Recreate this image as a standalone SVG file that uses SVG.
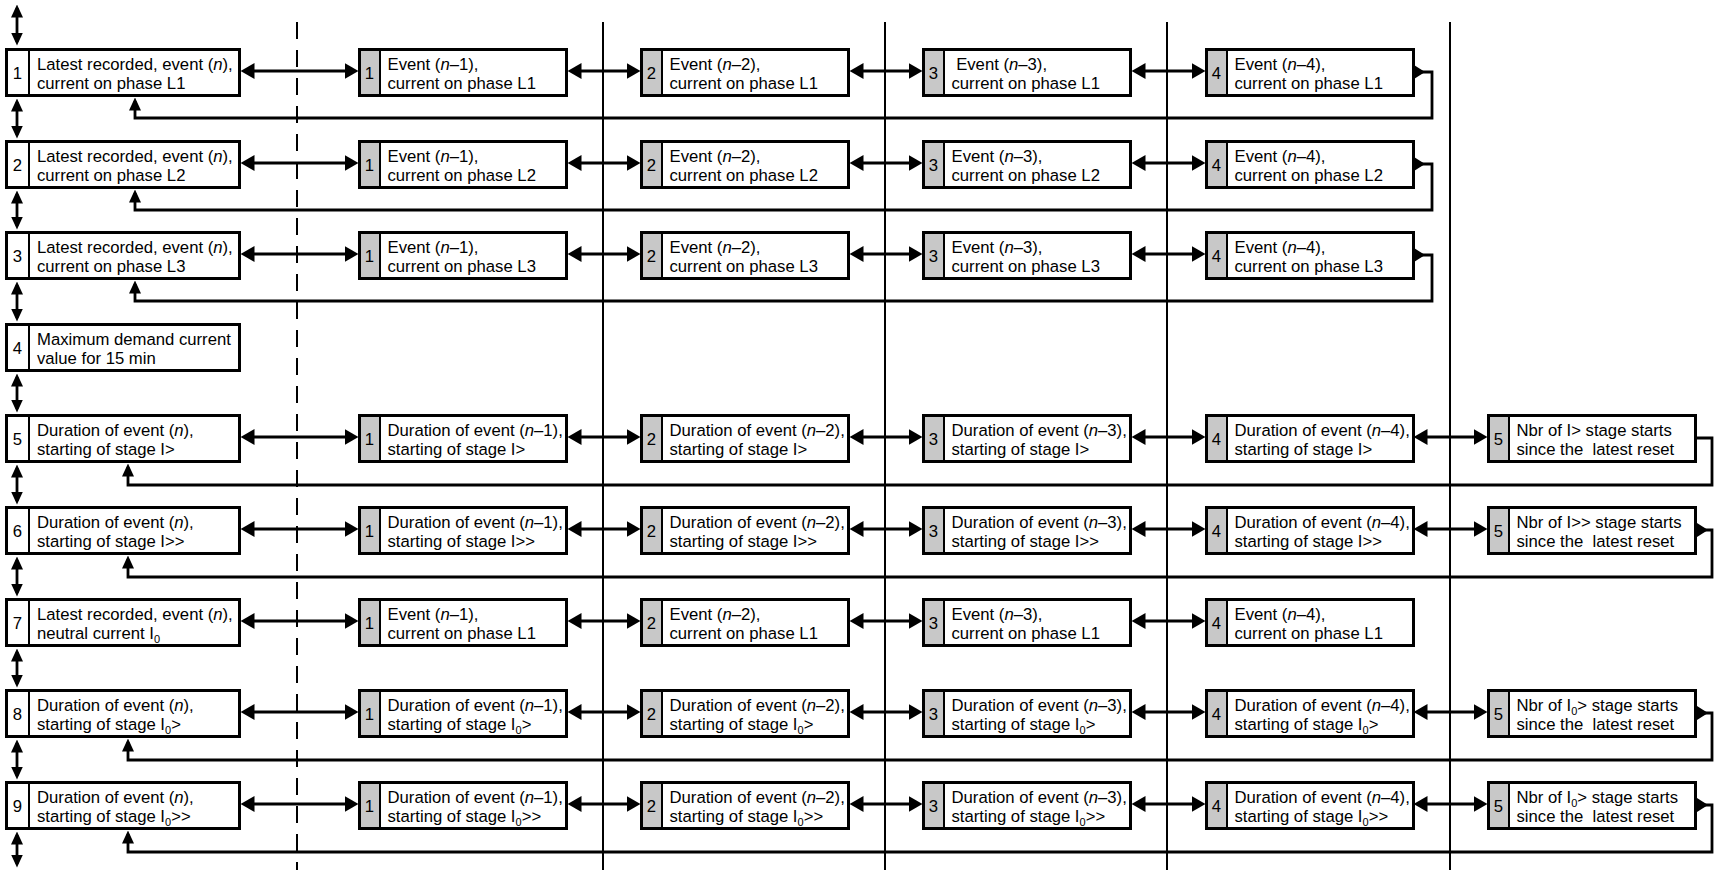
<svg xmlns="http://www.w3.org/2000/svg" width="1720" height="870" viewBox="0 0 1720 870">
<style>
.box{fill:#fff;stroke:#000;stroke-width:3}
.g{fill:#c8c8c8}
.dv{stroke:#000;stroke-width:2}
.t{font-family:"Liberation Sans",Arial,sans-serif;font-size:16.7px;fill:#000}
.n{font-family:"Liberation Sans",Arial,sans-serif;font-size:16.7px;fill:#000;text-anchor:middle}
.i{font-style:italic}
.s{font-size:11px}
.ha{stroke:#000;stroke-width:3.2;marker-start:url(#ah);marker-end:url(#ah)}
.va{stroke:#000;stroke-width:2.8;marker-start:url(#av);marker-end:url(#av)}
.fb{fill:none;stroke:#000;stroke-width:2.8;marker-end:url(#av)}
.ra{fill:#000}
.vl{stroke:#000;stroke-width:2}
.dl{stroke:#000;stroke-width:2;stroke-dasharray:17 11}
</style>
<defs>
<marker id="ah" viewBox="0 0 14 16" refX="10.5" refY="8" markerWidth="14" markerHeight="16" markerUnits="userSpaceOnUse" orient="auto-start-reverse"><path d="M0,0 L14,8 L0,16 z" fill="#000"/></marker>
<marker id="av" viewBox="0 0 13 12" refX="9.5" refY="6" markerWidth="13" markerHeight="12" markerUnits="userSpaceOnUse" orient="auto-start-reverse"><path d="M0,0 L13,6 L0,12 z" fill="#000"/></marker>
</defs>
<rect width="1720" height="870" fill="#fff"/>
<g id="guides">
<line class="dl" x1="297" y1="22" x2="297" y2="870"/>
<line class="vl" x1="603" y1="22" x2="603" y2="870"/>
<line class="vl" x1="885" y1="22" x2="885" y2="870"/>
<line class="vl" x1="1167" y1="22" x2="1167" y2="870"/>
<line class="vl" x1="1450" y1="22" x2="1450" y2="870"/>
</g>
<g id="connectors">
<line class="va" x1="17" y1="8" x2="17" y2="42"/>
<line class="va" x1="17" y1="102" x2="17" y2="135"/>
<line class="va" x1="17" y1="194" x2="17" y2="226"/>
<line class="va" x1="17" y1="285" x2="17" y2="318"/>
<line class="va" x1="17" y1="377" x2="17" y2="409"/>
<line class="va" x1="17" y1="468" x2="17" y2="501"/>
<line class="va" x1="17" y1="560" x2="17" y2="593"/>
<line class="va" x1="17" y1="652" x2="17" y2="684"/>
<line class="va" x1="17" y1="743" x2="17" y2="776"/>
<line class="va" x1="17" y1="835" x2="17" y2="864"/>
<line class="ha" x1="244" y1="71" x2="355" y2="71"/><line class="ha" x1="571" y1="71" x2="637" y2="71"/><line class="ha" x1="853" y1="71" x2="919" y2="71"/><line class="ha" x1="1135" y1="71" x2="1202" y2="71"/>
<line class="ha" x1="244" y1="163" x2="355" y2="163"/><line class="ha" x1="571" y1="163" x2="637" y2="163"/><line class="ha" x1="853" y1="163" x2="919" y2="163"/><line class="ha" x1="1135" y1="163" x2="1202" y2="163"/>
<line class="ha" x1="244" y1="254" x2="355" y2="254"/><line class="ha" x1="571" y1="254" x2="637" y2="254"/><line class="ha" x1="853" y1="254" x2="919" y2="254"/><line class="ha" x1="1135" y1="254" x2="1202" y2="254"/>
<line class="ha" x1="244" y1="437" x2="355" y2="437"/><line class="ha" x1="571" y1="437" x2="637" y2="437"/><line class="ha" x1="853" y1="437" x2="919" y2="437"/><line class="ha" x1="1135" y1="437" x2="1202" y2="437"/><line class="ha" x1="1417" y1="437" x2="1484" y2="437"/>
<line class="ha" x1="244" y1="529" x2="355" y2="529"/><line class="ha" x1="571" y1="529" x2="637" y2="529"/><line class="ha" x1="853" y1="529" x2="919" y2="529"/><line class="ha" x1="1135" y1="529" x2="1202" y2="529"/><line class="ha" x1="1417" y1="529" x2="1484" y2="529"/>
<line class="ha" x1="244" y1="621" x2="355" y2="621"/><line class="ha" x1="571" y1="621" x2="637" y2="621"/><line class="ha" x1="853" y1="621" x2="919" y2="621"/><line class="ha" x1="1135" y1="621" x2="1202" y2="621"/>
<line class="ha" x1="244" y1="712" x2="355" y2="712"/><line class="ha" x1="571" y1="712" x2="637" y2="712"/><line class="ha" x1="853" y1="712" x2="919" y2="712"/><line class="ha" x1="1135" y1="712" x2="1202" y2="712"/><line class="ha" x1="1417" y1="712" x2="1484" y2="712"/>
<line class="ha" x1="244" y1="804" x2="355" y2="804"/><line class="ha" x1="571" y1="804" x2="637" y2="804"/><line class="ha" x1="853" y1="804" x2="919" y2="804"/><line class="ha" x1="1135" y1="804" x2="1202" y2="804"/><line class="ha" x1="1417" y1="804" x2="1484" y2="804"/>
<path class="fb" d="M1414,72 H1432 V118 H135 V101"/><polygon class="ra" points="1414,65 1425,72 1414,79"/>
<path class="fb" d="M1414,164 H1432 V210 H135 V193"/><polygon class="ra" points="1414,157 1425,164 1414,171"/>
<path class="fb" d="M1414,255 H1432 V301 H135 V284"/><polygon class="ra" points="1414,248 1425,255 1414,262"/>
<path class="fb" d="M1697,438 H1712 V485 H128 V467"/>
<path class="fb" d="M1697,530 H1712 V577 H128 V559"/><polygon class="ra" points="1697,523 1708,530 1697,537"/>
<path class="fb" d="M1697,713 H1712 V760 H128 V742"/><polygon class="ra" points="1697,706 1708,713 1697,720"/>
<path class="fb" d="M1697,805 H1712 V852 H128 V834"/><polygon class="ra" points="1697,798 1708,805 1697,812"/>
</g>
<g id="r1c0" transform="translate(5,48)"><rect class="box" x="1.5" y="1.5" width="233" height="46"/><line class="dv" x1="24" y1="1" x2="24" y2="48"/><text class="n" x="12.5" y="30.5">1</text><text class="t" x="32" y="21.8">Latest recorded, event (<tspan class="i">n</tspan>),</text><text class="t" x="32" y="40.5">current on phase L1</text></g>
<g id="r1c1" transform="translate(358,48)"><rect class="box" x="1.5" y="1.5" width="207" height="46"/><rect class="g" x="3" y="3" width="19" height="43"/><line class="dv" x1="22" y1="1" x2="22" y2="48"/><text class="n" x="11.5" y="30.5">1</text><text class="t" x="29.5" y="21.8">Event (<tspan class="i">n</tspan>–1),</text><text class="t" x="29.5" y="40.5">current on phase L1</text></g>
<g id="r1c2" transform="translate(640,48)"><rect class="box" x="1.5" y="1.5" width="207" height="46"/><rect class="g" x="3" y="3" width="19" height="43"/><line class="dv" x1="22" y1="1" x2="22" y2="48"/><text class="n" x="11.5" y="30.5">2</text><text class="t" x="29.5" y="21.8">Event (<tspan class="i">n</tspan>–2),</text><text class="t" x="29.5" y="40.5">current on phase L1</text></g>
<g id="r1c3" transform="translate(922,48)"><rect class="box" x="1.5" y="1.5" width="207" height="46"/><rect class="g" x="3" y="3" width="19" height="43"/><line class="dv" x1="22" y1="1" x2="22" y2="48"/><text class="n" x="11.5" y="30.5">3</text><text class="t" x="29.5" y="21.8" xml:space="preserve"> Event (<tspan class="i">n</tspan>–3),</text><text class="t" x="29.5" y="40.5">current on phase L1</text></g>
<g id="r1c4" transform="translate(1205,48)"><rect class="box" x="1.5" y="1.5" width="207" height="46"/><rect class="g" x="3" y="3" width="19" height="43"/><line class="dv" x1="22" y1="1" x2="22" y2="48"/><text class="n" x="11.5" y="30.5">4</text><text class="t" x="29.5" y="21.8">Event (<tspan class="i">n</tspan>–4),</text><text class="t" x="29.5" y="40.5">current on phase L1</text></g>
<g id="r2c0" transform="translate(5,140)"><rect class="box" x="1.5" y="1.5" width="233" height="46"/><line class="dv" x1="24" y1="1" x2="24" y2="48"/><text class="n" x="12.5" y="30.5">2</text><text class="t" x="32" y="21.8">Latest recorded, event (<tspan class="i">n</tspan>),</text><text class="t" x="32" y="40.5">current on phase L2</text></g>
<g id="r2c1" transform="translate(358,140)"><rect class="box" x="1.5" y="1.5" width="207" height="46"/><rect class="g" x="3" y="3" width="19" height="43"/><line class="dv" x1="22" y1="1" x2="22" y2="48"/><text class="n" x="11.5" y="30.5">1</text><text class="t" x="29.5" y="21.8">Event (<tspan class="i">n</tspan>–1),</text><text class="t" x="29.5" y="40.5">current on phase L2</text></g>
<g id="r2c2" transform="translate(640,140)"><rect class="box" x="1.5" y="1.5" width="207" height="46"/><rect class="g" x="3" y="3" width="19" height="43"/><line class="dv" x1="22" y1="1" x2="22" y2="48"/><text class="n" x="11.5" y="30.5">2</text><text class="t" x="29.5" y="21.8">Event (<tspan class="i">n</tspan>–2),</text><text class="t" x="29.5" y="40.5">current on phase L2</text></g>
<g id="r2c3" transform="translate(922,140)"><rect class="box" x="1.5" y="1.5" width="207" height="46"/><rect class="g" x="3" y="3" width="19" height="43"/><line class="dv" x1="22" y1="1" x2="22" y2="48"/><text class="n" x="11.5" y="30.5">3</text><text class="t" x="29.5" y="21.8">Event (<tspan class="i">n</tspan>–3),</text><text class="t" x="29.5" y="40.5">current on phase L2</text></g>
<g id="r2c4" transform="translate(1205,140)"><rect class="box" x="1.5" y="1.5" width="207" height="46"/><rect class="g" x="3" y="3" width="19" height="43"/><line class="dv" x1="22" y1="1" x2="22" y2="48"/><text class="n" x="11.5" y="30.5">4</text><text class="t" x="29.5" y="21.8">Event (<tspan class="i">n</tspan>–4),</text><text class="t" x="29.5" y="40.5">current on phase L2</text></g>
<g id="r3c0" transform="translate(5,231)"><rect class="box" x="1.5" y="1.5" width="233" height="46"/><line class="dv" x1="24" y1="1" x2="24" y2="48"/><text class="n" x="12.5" y="30.5">3</text><text class="t" x="32" y="21.8">Latest recorded, event (<tspan class="i">n</tspan>),</text><text class="t" x="32" y="40.5">current on phase L3</text></g>
<g id="r3c1" transform="translate(358,231)"><rect class="box" x="1.5" y="1.5" width="207" height="46"/><rect class="g" x="3" y="3" width="19" height="43"/><line class="dv" x1="22" y1="1" x2="22" y2="48"/><text class="n" x="11.5" y="30.5">1</text><text class="t" x="29.5" y="21.8">Event (<tspan class="i">n</tspan>–1),</text><text class="t" x="29.5" y="40.5">current on phase L3</text></g>
<g id="r3c2" transform="translate(640,231)"><rect class="box" x="1.5" y="1.5" width="207" height="46"/><rect class="g" x="3" y="3" width="19" height="43"/><line class="dv" x1="22" y1="1" x2="22" y2="48"/><text class="n" x="11.5" y="30.5">2</text><text class="t" x="29.5" y="21.8">Event (<tspan class="i">n</tspan>–2),</text><text class="t" x="29.5" y="40.5">current on phase L3</text></g>
<g id="r3c3" transform="translate(922,231)"><rect class="box" x="1.5" y="1.5" width="207" height="46"/><rect class="g" x="3" y="3" width="19" height="43"/><line class="dv" x1="22" y1="1" x2="22" y2="48"/><text class="n" x="11.5" y="30.5">3</text><text class="t" x="29.5" y="21.8">Event (<tspan class="i">n</tspan>–3),</text><text class="t" x="29.5" y="40.5">current on phase L3</text></g>
<g id="r3c4" transform="translate(1205,231)"><rect class="box" x="1.5" y="1.5" width="207" height="46"/><rect class="g" x="3" y="3" width="19" height="43"/><line class="dv" x1="22" y1="1" x2="22" y2="48"/><text class="n" x="11.5" y="30.5">4</text><text class="t" x="29.5" y="21.8">Event (<tspan class="i">n</tspan>–4),</text><text class="t" x="29.5" y="40.5">current on phase L3</text></g>
<g id="r4c0" transform="translate(5,323)"><rect class="box" x="1.5" y="1.5" width="233" height="46"/><line class="dv" x1="24" y1="1" x2="24" y2="48"/><text class="n" x="12.5" y="30.5">4</text><text class="t" x="32" y="21.8">Maximum demand current</text><text class="t" x="32" y="40.5">value for 15 min</text></g>
<g id="r5c0" transform="translate(5,414)"><rect class="box" x="1.5" y="1.5" width="233" height="46"/><line class="dv" x1="24" y1="1" x2="24" y2="48"/><text class="n" x="12.5" y="30.5">5</text><text class="t" x="32" y="21.8">Duration of event (<tspan class="i">n</tspan>),</text><text class="t" x="32" y="40.5">starting of stage I&gt;</text></g>
<g id="r5c1" transform="translate(358,414)"><rect class="box" x="1.5" y="1.5" width="207" height="46"/><rect class="g" x="3" y="3" width="19" height="43"/><line class="dv" x1="22" y1="1" x2="22" y2="48"/><text class="n" x="11.5" y="30.5">1</text><text class="t" x="29.5" y="21.8">Duration of event (<tspan class="i">n</tspan>–1),</text><text class="t" x="29.5" y="40.5">starting of stage I&gt;</text></g>
<g id="r5c2" transform="translate(640,414)"><rect class="box" x="1.5" y="1.5" width="207" height="46"/><rect class="g" x="3" y="3" width="19" height="43"/><line class="dv" x1="22" y1="1" x2="22" y2="48"/><text class="n" x="11.5" y="30.5">2</text><text class="t" x="29.5" y="21.8">Duration of event (<tspan class="i">n</tspan>–2),</text><text class="t" x="29.5" y="40.5">starting of stage I&gt;</text></g>
<g id="r5c3" transform="translate(922,414)"><rect class="box" x="1.5" y="1.5" width="207" height="46"/><rect class="g" x="3" y="3" width="19" height="43"/><line class="dv" x1="22" y1="1" x2="22" y2="48"/><text class="n" x="11.5" y="30.5">3</text><text class="t" x="29.5" y="21.8">Duration of event (<tspan class="i">n</tspan>–3),</text><text class="t" x="29.5" y="40.5">starting of stage I&gt;</text></g>
<g id="r5c4" transform="translate(1205,414)"><rect class="box" x="1.5" y="1.5" width="207" height="46"/><rect class="g" x="3" y="3" width="19" height="43"/><line class="dv" x1="22" y1="1" x2="22" y2="48"/><text class="n" x="11.5" y="30.5">4</text><text class="t" x="29.5" y="21.8">Duration of event (<tspan class="i">n</tspan>–4),</text><text class="t" x="29.5" y="40.5">starting of stage I&gt;</text></g>
<g id="r5c5" transform="translate(1487,414)"><rect class="box" x="1.5" y="1.5" width="207" height="46"/><rect class="g" x="3" y="3" width="19" height="43"/><line class="dv" x1="22" y1="1" x2="22" y2="48"/><text class="n" x="11.5" y="30.5">5</text><text class="t" x="29.5" y="21.8">Nbr of I&gt; stage starts</text><text class="t" x="29.5" y="40.5" xml:space="preserve">since the  latest reset</text></g>
<g id="r6c0" transform="translate(5,506)"><rect class="box" x="1.5" y="1.5" width="233" height="46"/><line class="dv" x1="24" y1="1" x2="24" y2="48"/><text class="n" x="12.5" y="30.5">6</text><text class="t" x="32" y="21.8">Duration of event (<tspan class="i">n</tspan>),</text><text class="t" x="32" y="40.5">starting of stage I&gt;&gt;</text></g>
<g id="r6c1" transform="translate(358,506)"><rect class="box" x="1.5" y="1.5" width="207" height="46"/><rect class="g" x="3" y="3" width="19" height="43"/><line class="dv" x1="22" y1="1" x2="22" y2="48"/><text class="n" x="11.5" y="30.5">1</text><text class="t" x="29.5" y="21.8">Duration of event (<tspan class="i">n</tspan>–1),</text><text class="t" x="29.5" y="40.5">starting of stage I&gt;&gt;</text></g>
<g id="r6c2" transform="translate(640,506)"><rect class="box" x="1.5" y="1.5" width="207" height="46"/><rect class="g" x="3" y="3" width="19" height="43"/><line class="dv" x1="22" y1="1" x2="22" y2="48"/><text class="n" x="11.5" y="30.5">2</text><text class="t" x="29.5" y="21.8">Duration of event (<tspan class="i">n</tspan>–2),</text><text class="t" x="29.5" y="40.5">starting of stage I&gt;&gt;</text></g>
<g id="r6c3" transform="translate(922,506)"><rect class="box" x="1.5" y="1.5" width="207" height="46"/><rect class="g" x="3" y="3" width="19" height="43"/><line class="dv" x1="22" y1="1" x2="22" y2="48"/><text class="n" x="11.5" y="30.5">3</text><text class="t" x="29.5" y="21.8">Duration of event (<tspan class="i">n</tspan>–3),</text><text class="t" x="29.5" y="40.5">starting of stage I&gt;&gt;</text></g>
<g id="r6c4" transform="translate(1205,506)"><rect class="box" x="1.5" y="1.5" width="207" height="46"/><rect class="g" x="3" y="3" width="19" height="43"/><line class="dv" x1="22" y1="1" x2="22" y2="48"/><text class="n" x="11.5" y="30.5">4</text><text class="t" x="29.5" y="21.8">Duration of event (<tspan class="i">n</tspan>–4),</text><text class="t" x="29.5" y="40.5">starting of stage I&gt;&gt;</text></g>
<g id="r6c5" transform="translate(1487,506)"><rect class="box" x="1.5" y="1.5" width="207" height="46"/><rect class="g" x="3" y="3" width="19" height="43"/><line class="dv" x1="22" y1="1" x2="22" y2="48"/><text class="n" x="11.5" y="30.5">5</text><text class="t" x="29.5" y="21.8">Nbr of I&gt;&gt; stage starts</text><text class="t" x="29.5" y="40.5" xml:space="preserve">since the  latest reset</text></g>
<g id="r7c0" transform="translate(5,598)"><rect class="box" x="1.5" y="1.5" width="233" height="46"/><line class="dv" x1="24" y1="1" x2="24" y2="48"/><text class="n" x="12.5" y="30.5">7</text><text class="t" x="32" y="21.8">Latest recorded, event (<tspan class="i">n</tspan>),</text><text class="t" x="32" y="40.5">neutral current I<tspan class="s" dy="4">0</tspan></text></g>
<g id="r7c1" transform="translate(358,598)"><rect class="box" x="1.5" y="1.5" width="207" height="46"/><rect class="g" x="3" y="3" width="19" height="43"/><line class="dv" x1="22" y1="1" x2="22" y2="48"/><text class="n" x="11.5" y="30.5">1</text><text class="t" x="29.5" y="21.8">Event (<tspan class="i">n</tspan>–1),</text><text class="t" x="29.5" y="40.5">current on phase L1</text></g>
<g id="r7c2" transform="translate(640,598)"><rect class="box" x="1.5" y="1.5" width="207" height="46"/><rect class="g" x="3" y="3" width="19" height="43"/><line class="dv" x1="22" y1="1" x2="22" y2="48"/><text class="n" x="11.5" y="30.5">2</text><text class="t" x="29.5" y="21.8">Event (<tspan class="i">n</tspan>–2),</text><text class="t" x="29.5" y="40.5">current on phase L1</text></g>
<g id="r7c3" transform="translate(922,598)"><rect class="box" x="1.5" y="1.5" width="207" height="46"/><rect class="g" x="3" y="3" width="19" height="43"/><line class="dv" x1="22" y1="1" x2="22" y2="48"/><text class="n" x="11.5" y="30.5">3</text><text class="t" x="29.5" y="21.8">Event (<tspan class="i">n</tspan>–3),</text><text class="t" x="29.5" y="40.5">current on phase L1</text></g>
<g id="r7c4" transform="translate(1205,598)"><rect class="box" x="1.5" y="1.5" width="207" height="46"/><rect class="g" x="3" y="3" width="19" height="43"/><line class="dv" x1="22" y1="1" x2="22" y2="48"/><text class="n" x="11.5" y="30.5">4</text><text class="t" x="29.5" y="21.8">Event (<tspan class="i">n</tspan>–4),</text><text class="t" x="29.5" y="40.5">current on phase L1</text></g>
<g id="r8c0" transform="translate(5,689)"><rect class="box" x="1.5" y="1.5" width="233" height="46"/><line class="dv" x1="24" y1="1" x2="24" y2="48"/><text class="n" x="12.5" y="30.5">8</text><text class="t" x="32" y="21.8">Duration of event (<tspan class="i">n</tspan>),</text><text class="t" x="32" y="40.5">starting of stage I<tspan class="s" dy="4">0</tspan><tspan dy="-4">&gt;</tspan></text></g>
<g id="r8c1" transform="translate(358,689)"><rect class="box" x="1.5" y="1.5" width="207" height="46"/><rect class="g" x="3" y="3" width="19" height="43"/><line class="dv" x1="22" y1="1" x2="22" y2="48"/><text class="n" x="11.5" y="30.5">1</text><text class="t" x="29.5" y="21.8">Duration of event (<tspan class="i">n</tspan>–1),</text><text class="t" x="29.5" y="40.5">starting of stage I<tspan class="s" dy="4">0</tspan><tspan dy="-4">&gt;</tspan></text></g>
<g id="r8c2" transform="translate(640,689)"><rect class="box" x="1.5" y="1.5" width="207" height="46"/><rect class="g" x="3" y="3" width="19" height="43"/><line class="dv" x1="22" y1="1" x2="22" y2="48"/><text class="n" x="11.5" y="30.5">2</text><text class="t" x="29.5" y="21.8">Duration of event (<tspan class="i">n</tspan>–2),</text><text class="t" x="29.5" y="40.5">starting of stage I<tspan class="s" dy="4">0</tspan><tspan dy="-4">&gt;</tspan></text></g>
<g id="r8c3" transform="translate(922,689)"><rect class="box" x="1.5" y="1.5" width="207" height="46"/><rect class="g" x="3" y="3" width="19" height="43"/><line class="dv" x1="22" y1="1" x2="22" y2="48"/><text class="n" x="11.5" y="30.5">3</text><text class="t" x="29.5" y="21.8">Duration of event (<tspan class="i">n</tspan>–3),</text><text class="t" x="29.5" y="40.5">starting of stage I<tspan class="s" dy="4">0</tspan><tspan dy="-4">&gt;</tspan></text></g>
<g id="r8c4" transform="translate(1205,689)"><rect class="box" x="1.5" y="1.5" width="207" height="46"/><rect class="g" x="3" y="3" width="19" height="43"/><line class="dv" x1="22" y1="1" x2="22" y2="48"/><text class="n" x="11.5" y="30.5">4</text><text class="t" x="29.5" y="21.8">Duration of event (<tspan class="i">n</tspan>–4),</text><text class="t" x="29.5" y="40.5">starting of stage I<tspan class="s" dy="4">0</tspan><tspan dy="-4">&gt;</tspan></text></g>
<g id="r8c5" transform="translate(1487,689)"><rect class="box" x="1.5" y="1.5" width="207" height="46"/><rect class="g" x="3" y="3" width="19" height="43"/><line class="dv" x1="22" y1="1" x2="22" y2="48"/><text class="n" x="11.5" y="30.5">5</text><text class="t" x="29.5" y="21.8">Nbr of I<tspan class="s" dy="4">0</tspan><tspan dy="-4">&gt; stage starts</tspan></text><text class="t" x="29.5" y="40.5" xml:space="preserve">since the  latest reset</text></g>
<g id="r9c0" transform="translate(5,781)"><rect class="box" x="1.5" y="1.5" width="233" height="46"/><line class="dv" x1="24" y1="1" x2="24" y2="48"/><text class="n" x="12.5" y="30.5">9</text><text class="t" x="32" y="21.8">Duration of event (<tspan class="i">n</tspan>),</text><text class="t" x="32" y="40.5">starting of stage I<tspan class="s" dy="4">0</tspan><tspan dy="-4">&gt;&gt;</tspan></text></g>
<g id="r9c1" transform="translate(358,781)"><rect class="box" x="1.5" y="1.5" width="207" height="46"/><rect class="g" x="3" y="3" width="19" height="43"/><line class="dv" x1="22" y1="1" x2="22" y2="48"/><text class="n" x="11.5" y="30.5">1</text><text class="t" x="29.5" y="21.8">Duration of event (<tspan class="i">n</tspan>–1),</text><text class="t" x="29.5" y="40.5">starting of stage I<tspan class="s" dy="4">0</tspan><tspan dy="-4">&gt;&gt;</tspan></text></g>
<g id="r9c2" transform="translate(640,781)"><rect class="box" x="1.5" y="1.5" width="207" height="46"/><rect class="g" x="3" y="3" width="19" height="43"/><line class="dv" x1="22" y1="1" x2="22" y2="48"/><text class="n" x="11.5" y="30.5">2</text><text class="t" x="29.5" y="21.8">Duration of event (<tspan class="i">n</tspan>–2),</text><text class="t" x="29.5" y="40.5">starting of stage I<tspan class="s" dy="4">0</tspan><tspan dy="-4">&gt;&gt;</tspan></text></g>
<g id="r9c3" transform="translate(922,781)"><rect class="box" x="1.5" y="1.5" width="207" height="46"/><rect class="g" x="3" y="3" width="19" height="43"/><line class="dv" x1="22" y1="1" x2="22" y2="48"/><text class="n" x="11.5" y="30.5">3</text><text class="t" x="29.5" y="21.8">Duration of event (<tspan class="i">n</tspan>–3),</text><text class="t" x="29.5" y="40.5">starting of stage I<tspan class="s" dy="4">0</tspan><tspan dy="-4">&gt;&gt;</tspan></text></g>
<g id="r9c4" transform="translate(1205,781)"><rect class="box" x="1.5" y="1.5" width="207" height="46"/><rect class="g" x="3" y="3" width="19" height="43"/><line class="dv" x1="22" y1="1" x2="22" y2="48"/><text class="n" x="11.5" y="30.5">4</text><text class="t" x="29.5" y="21.8">Duration of event (<tspan class="i">n</tspan>–4),</text><text class="t" x="29.5" y="40.5">starting of stage I<tspan class="s" dy="4">0</tspan><tspan dy="-4">&gt;&gt;</tspan></text></g>
<g id="r9c5" transform="translate(1487,781)"><rect class="box" x="1.5" y="1.5" width="207" height="46"/><rect class="g" x="3" y="3" width="19" height="43"/><line class="dv" x1="22" y1="1" x2="22" y2="48"/><text class="n" x="11.5" y="30.5">5</text><text class="t" x="29.5" y="21.8">Nbr of I<tspan class="s" dy="4">0</tspan><tspan dy="-4">&gt; stage starts</tspan></text><text class="t" x="29.5" y="40.5" xml:space="preserve">since the  latest reset</text></g>
</svg>
